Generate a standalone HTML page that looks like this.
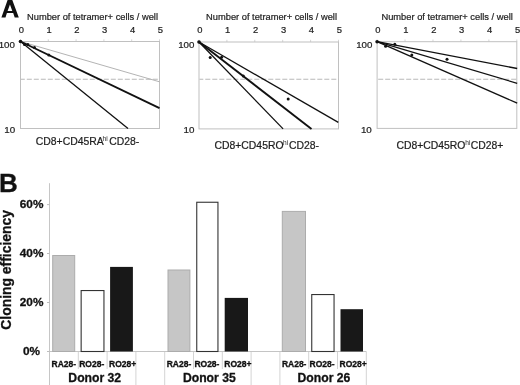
<!DOCTYPE html>
<html><head><meta charset="utf-8"><style>
html,body{margin:0;padding:0;background:#fff;}
body{width:520px;height:385px;overflow:hidden;}
svg{display:block;font-family:"Liberation Sans", sans-serif;will-change:transform;}
text{stroke:#1e1e1e;stroke-width:0.22px;}
.b{stroke:#111;stroke-width:0.3px;}
</style></head><body>
<svg width="520" height="385" viewBox="0 0 520 385">
<rect width="520" height="385" fill="#fff"/>

<text x="27.00" y="19.7" font-size="9.6" fill="#1e1e1e" textLength="131.00" lengthAdjust="spacingAndGlyphs">Number of tetramer+ cells / well</text>
<text x="21.30" y="32.80" font-size="9.4" fill="#1e1e1e" text-anchor="middle">0</text>
<line x1="20.50" y1="39.30" x2="20.50" y2="41.50" stroke="#d0d0d0" stroke-width="0.9"/>
<text x="49.10" y="32.80" font-size="9.4" fill="#1e1e1e" text-anchor="middle">1</text>
<line x1="48.30" y1="39.30" x2="48.30" y2="41.50" stroke="#d0d0d0" stroke-width="0.9"/>
<text x="76.90" y="32.80" font-size="9.4" fill="#1e1e1e" text-anchor="middle">2</text>
<line x1="76.10" y1="39.30" x2="76.10" y2="41.50" stroke="#d0d0d0" stroke-width="0.9"/>
<text x="104.70" y="32.80" font-size="9.4" fill="#1e1e1e" text-anchor="middle">3</text>
<line x1="103.90" y1="39.30" x2="103.90" y2="41.50" stroke="#d0d0d0" stroke-width="0.9"/>
<text x="132.50" y="32.80" font-size="9.4" fill="#1e1e1e" text-anchor="middle">4</text>
<line x1="131.70" y1="39.30" x2="131.70" y2="41.50" stroke="#d0d0d0" stroke-width="0.9"/>
<text x="160.30" y="32.80" font-size="9.4" fill="#1e1e1e" text-anchor="middle">5</text>
<line x1="159.50" y1="39.30" x2="159.50" y2="41.50" stroke="#d0d0d0" stroke-width="0.9"/>
<text x="14.90" y="47.6" font-size="9.7" fill="#1e1e1e" text-anchor="end">100</text>
<text x="15.10" y="132.5" font-size="9.8" fill="#1e1e1e" text-anchor="end">10</text>
<rect x="20.50" y="41.50" width="139.00" height="87.00" fill="none" stroke="#c0c0c0" stroke-width="1"/>
<line x1="21.00" y1="79.25" x2="159.50" y2="79.25" stroke="#b0b0b0" stroke-width="0.9" stroke-dasharray="5,2" stroke-dashoffset="1.2"/>
<line x1="20.50" y1="41.50" x2="159.50" y2="81.80" stroke="#b4b4b4" stroke-width="1.0"/>
<line x1="20.50" y1="41.50" x2="159.50" y2="108.20" stroke="#111" stroke-width="1.85"/>
<line x1="20.50" y1="41.50" x2="128.00" y2="128.50" stroke="#111" stroke-width="1.3"/>
<circle cx="20.50" cy="41.50" r="1.8" fill="#111"/>
<circle cx="24.5" cy="44.5" r="1.5" fill="#111"/>
<circle cx="27.8" cy="44.5" r="1.5" fill="#111"/>
<circle cx="34.5" cy="47.6" r="1.5" fill="#111"/>
<circle cx="48.8" cy="54.9" r="1.5" fill="#111"/>
<text x="35.80" y="144.8" font-size="10.4" fill="#1e1e1e">CD8+CD45RA</text>
<text x="102.50" y="140.50" font-size="6.6" fill="#1e1e1e" style="stroke:none">hi</text>
<text x="109.30" y="144.8" font-size="10.4" fill="#1e1e1e">CD28-</text>
<text x="206.10" y="19.7" font-size="9.6" fill="#1e1e1e" textLength="130.90" lengthAdjust="spacingAndGlyphs">Number of tetramer+ cells / well</text>
<text x="199.80" y="33.30" font-size="9.4" fill="#1e1e1e" text-anchor="middle">0</text>
<line x1="199.00" y1="39.80" x2="199.00" y2="42.00" stroke="#d0d0d0" stroke-width="0.9"/>
<text x="227.70" y="33.30" font-size="9.4" fill="#1e1e1e" text-anchor="middle">1</text>
<line x1="226.90" y1="39.80" x2="226.90" y2="42.00" stroke="#d0d0d0" stroke-width="0.9"/>
<text x="255.60" y="33.30" font-size="9.4" fill="#1e1e1e" text-anchor="middle">2</text>
<line x1="254.80" y1="39.80" x2="254.80" y2="42.00" stroke="#d0d0d0" stroke-width="0.9"/>
<text x="283.50" y="33.30" font-size="9.4" fill="#1e1e1e" text-anchor="middle">3</text>
<line x1="282.70" y1="39.80" x2="282.70" y2="42.00" stroke="#d0d0d0" stroke-width="0.9"/>
<text x="311.40" y="33.30" font-size="9.4" fill="#1e1e1e" text-anchor="middle">4</text>
<line x1="310.60" y1="39.80" x2="310.60" y2="42.00" stroke="#d0d0d0" stroke-width="0.9"/>
<text x="339.30" y="33.30" font-size="9.4" fill="#1e1e1e" text-anchor="middle">5</text>
<line x1="338.50" y1="39.80" x2="338.50" y2="42.00" stroke="#d0d0d0" stroke-width="0.9"/>
<text x="194.30" y="47.6" font-size="9.7" fill="#1e1e1e" text-anchor="end">100</text>
<text x="194.50" y="132.5" font-size="9.8" fill="#1e1e1e" text-anchor="end">10</text>
<rect x="199.00" y="42.00" width="139.50" height="86.90" fill="none" stroke="#c0c0c0" stroke-width="1"/>
<line x1="199.50" y1="79.25" x2="338.50" y2="79.25" stroke="#b0b0b0" stroke-width="0.9" stroke-dasharray="5,2" stroke-dashoffset="1.2"/>
<line x1="199.00" y1="42.00" x2="338.30" y2="122.40" stroke="#111" stroke-width="1.3"/>
<line x1="199.00" y1="42.00" x2="311.50" y2="128.90" stroke="#111" stroke-width="1.85"/>
<line x1="199.00" y1="42.00" x2="283.10" y2="128.90" stroke="#111" stroke-width="1.3"/>
<circle cx="199.00" cy="42.00" r="1.8" fill="#111"/>
<circle cx="210.2" cy="57.5" r="1.5" fill="#111"/>
<circle cx="221.6" cy="57.2" r="1.5" fill="#111"/>
<circle cx="243.3" cy="75.9" r="1.5" fill="#111"/>
<circle cx="288.2" cy="98.9" r="1.5" fill="#111"/>
<text x="214.50" y="149.0" font-size="10.4" fill="#1e1e1e">CD8+CD45RO</text>
<text x="283.00" y="144.70" font-size="6.6" fill="#1e1e1e" style="stroke:none">hi</text>
<text x="288.90" y="149.0" font-size="10.4" fill="#1e1e1e">CD28-</text>
<text x="381.40" y="19.7" font-size="9.6" fill="#1e1e1e" textLength="131.40" lengthAdjust="spacingAndGlyphs">Number of tetramer+ cells / well</text>
<text x="377.90" y="33.00" font-size="9.4" fill="#1e1e1e" text-anchor="middle">0</text>
<line x1="377.10" y1="39.50" x2="377.10" y2="41.70" stroke="#d0d0d0" stroke-width="0.9"/>
<text x="405.84" y="33.00" font-size="9.4" fill="#1e1e1e" text-anchor="middle">1</text>
<line x1="405.04" y1="39.50" x2="405.04" y2="41.70" stroke="#d0d0d0" stroke-width="0.9"/>
<text x="433.78" y="33.00" font-size="9.4" fill="#1e1e1e" text-anchor="middle">2</text>
<line x1="432.98" y1="39.50" x2="432.98" y2="41.70" stroke="#d0d0d0" stroke-width="0.9"/>
<text x="461.72" y="33.00" font-size="9.4" fill="#1e1e1e" text-anchor="middle">3</text>
<line x1="460.92" y1="39.50" x2="460.92" y2="41.70" stroke="#d0d0d0" stroke-width="0.9"/>
<text x="489.66" y="33.00" font-size="9.4" fill="#1e1e1e" text-anchor="middle">4</text>
<line x1="488.86" y1="39.50" x2="488.86" y2="41.70" stroke="#d0d0d0" stroke-width="0.9"/>
<text x="517.60" y="33.00" font-size="9.4" fill="#1e1e1e" text-anchor="middle">5</text>
<line x1="516.80" y1="39.50" x2="516.80" y2="41.70" stroke="#d0d0d0" stroke-width="0.9"/>
<text x="372.40" y="47.6" font-size="9.7" fill="#1e1e1e" text-anchor="end">100</text>
<text x="371.80" y="132.5" font-size="9.8" fill="#1e1e1e" text-anchor="end">10</text>
<rect x="377.10" y="41.70" width="139.70" height="86.70" fill="none" stroke="#c0c0c0" stroke-width="1"/>
<line x1="377.60" y1="79.25" x2="516.80" y2="79.25" stroke="#b0b0b0" stroke-width="0.9" stroke-dasharray="5,2" stroke-dashoffset="6.4"/>
<line x1="377.10" y1="41.70" x2="517.20" y2="68.50" stroke="#111" stroke-width="1.3"/>
<line x1="377.10" y1="41.70" x2="517.20" y2="83.30" stroke="#111" stroke-width="1.3"/>
<line x1="377.10" y1="41.70" x2="517.20" y2="103.20" stroke="#111" stroke-width="1.3"/>
<circle cx="377.10" cy="41.70" r="1.8" fill="#111"/>
<circle cx="385.6" cy="46.2" r="1.5" fill="#111"/>
<circle cx="394.8" cy="44.3" r="1.5" fill="#111"/>
<circle cx="411.8" cy="55" r="1.5" fill="#111"/>
<circle cx="447" cy="59.2" r="1.5" fill="#111"/>
<text x="396.40" y="149.2" font-size="10.4" fill="#1e1e1e">CD8+CD45RO</text>
<text x="465.30" y="144.90" font-size="6.6" fill="#1e1e1e" style="stroke:none">hi</text>
<text x="470.70" y="149.2" font-size="10.4" fill="#1e1e1e">CD28+</text>
<path fill="#111" fill-rule="evenodd" d="M1.4,17.4 L7.6,0 L12.3,0 L18.8,17.4 L14.7,17.4 L13.2,13.1 L6.9,13.1 L5.5,17.4 Z M9.95,4.4 L12.3,10.9 L7.6,10.9 Z"/>
<text x="-0.9" y="191.8" font-size="26" font-weight="bold" class="b" fill="#111">B</text>
<line x1="49.5" y1="183.2" x2="49.5" y2="385" stroke="#c6c6c6" stroke-width="1"/>
<line x1="78.30" y1="351.5" x2="78.30" y2="369" stroke="#d4d4d4" stroke-width="1"/>
<line x1="107.10" y1="351.5" x2="107.10" y2="369" stroke="#d4d4d4" stroke-width="1"/>
<line x1="135.90" y1="351.5" x2="135.90" y2="385" stroke="#d4d4d4" stroke-width="1"/>
<line x1="164.70" y1="351.5" x2="164.70" y2="385" stroke="#d4d4d4" stroke-width="1"/>
<line x1="193.50" y1="351.5" x2="193.50" y2="369" stroke="#d4d4d4" stroke-width="1"/>
<line x1="222.30" y1="351.5" x2="222.30" y2="369" stroke="#d4d4d4" stroke-width="1"/>
<line x1="251.10" y1="351.5" x2="251.10" y2="385" stroke="#d4d4d4" stroke-width="1"/>
<line x1="279.90" y1="351.5" x2="279.90" y2="385" stroke="#d4d4d4" stroke-width="1"/>
<line x1="308.70" y1="351.5" x2="308.70" y2="369" stroke="#d4d4d4" stroke-width="1"/>
<line x1="337.50" y1="351.5" x2="337.50" y2="369" stroke="#d4d4d4" stroke-width="1"/>
<line x1="366.30" y1="351.5" x2="366.30" y2="385" stroke="#d4d4d4" stroke-width="1"/>
<line x1="49.5" y1="351.5" x2="366.30" y2="351.5" stroke="#c4c4c4" stroke-width="1"/>
<line x1="47.0" y1="351.5" x2="49.5" y2="351.5" stroke="#bdbdbd" stroke-width="1"/>
<text x="31.6" y="354.60" font-size="11.8" font-weight="bold" class="b" fill="#111" text-anchor="middle">0%</text>
<line x1="47.0" y1="302.5" x2="49.5" y2="302.5" stroke="#bdbdbd" stroke-width="1"/>
<text x="31.6" y="305.60" font-size="11.8" font-weight="bold" class="b" fill="#111" text-anchor="middle">20%</text>
<line x1="47.0" y1="253.5" x2="49.5" y2="253.5" stroke="#bdbdbd" stroke-width="1"/>
<text x="31.6" y="256.60" font-size="11.8" font-weight="bold" class="b" fill="#111" text-anchor="middle">40%</text>
<line x1="47.0" y1="204.6" x2="49.5" y2="204.6" stroke="#bdbdbd" stroke-width="1"/>
<text x="31.6" y="207.70" font-size="11.8" font-weight="bold" class="b" fill="#111" text-anchor="middle">60%</text>
<rect x="52.70" y="255.5" width="22.00" height="96.00" fill="#c6c6c6" stroke="#acacac" stroke-width="1"/>
<rect x="81.15" y="290.55" width="22.80" height="60.95" fill="#fff" stroke="#333" stroke-width="1.1"/>
<rect x="110.10" y="266.9" width="22.80" height="84.60" fill="#181818"/>
<rect x="168.00" y="270.0" width="21.90" height="81.50" fill="#c6c6c6" stroke="#acacac" stroke-width="1"/>
<rect x="196.75" y="202.25" width="21.20" height="149.25" fill="#fff" stroke="#333" stroke-width="1.1"/>
<rect x="224.70" y="297.9" width="23.30" height="53.60" fill="#181818"/>
<rect x="282.30" y="211.4" width="23.20" height="140.10" fill="#c6c6c6" stroke="#acacac" stroke-width="1"/>
<rect x="311.75" y="294.55" width="22.30" height="56.95" fill="#fff" stroke="#333" stroke-width="1.1"/>
<rect x="340.50" y="309.2" width="22.50" height="42.30" fill="#181818"/>
<text x="51.50" y="366.7" font-size="8.5" font-weight="bold" class="b" fill="#111">RA28-</text>
<text x="79.20" y="366.7" font-size="8.5" font-weight="bold" class="b" fill="#111">RO28-</text>
<text x="109.10" y="366.7" font-size="8.5" font-weight="bold" class="b" fill="#111">RO28+</text>
<text x="166.70" y="366.7" font-size="8.5" font-weight="bold" class="b" fill="#111">RA28-</text>
<text x="194.40" y="366.7" font-size="8.5" font-weight="bold" class="b" fill="#111">RO28-</text>
<text x="224.30" y="366.7" font-size="8.5" font-weight="bold" class="b" fill="#111">RO28+</text>
<text x="281.90" y="366.7" font-size="8.5" font-weight="bold" class="b" fill="#111">RA28-</text>
<text x="309.60" y="366.7" font-size="8.5" font-weight="bold" class="b" fill="#111">RO28-</text>
<text x="339.50" y="366.7" font-size="8.5" font-weight="bold" class="b" fill="#111">RO28+</text>
<text x="94.75" y="382.4" font-size="12.2" font-weight="bold" class="b" fill="#111" text-anchor="middle">Donor 32</text>
<text x="209.35" y="382.4" font-size="12.2" font-weight="bold" class="b" fill="#111" text-anchor="middle">Donor 35</text>
<text x="323.95" y="382.4" font-size="12.2" font-weight="bold" class="b" fill="#111" text-anchor="middle">Donor 26</text>
<text transform="translate(10.5,329.7) rotate(-90)" x="0" y="0" font-size="13.9" font-weight="bold" class="b" fill="#111">Cloning efficiency</text>
</svg></body></html>
